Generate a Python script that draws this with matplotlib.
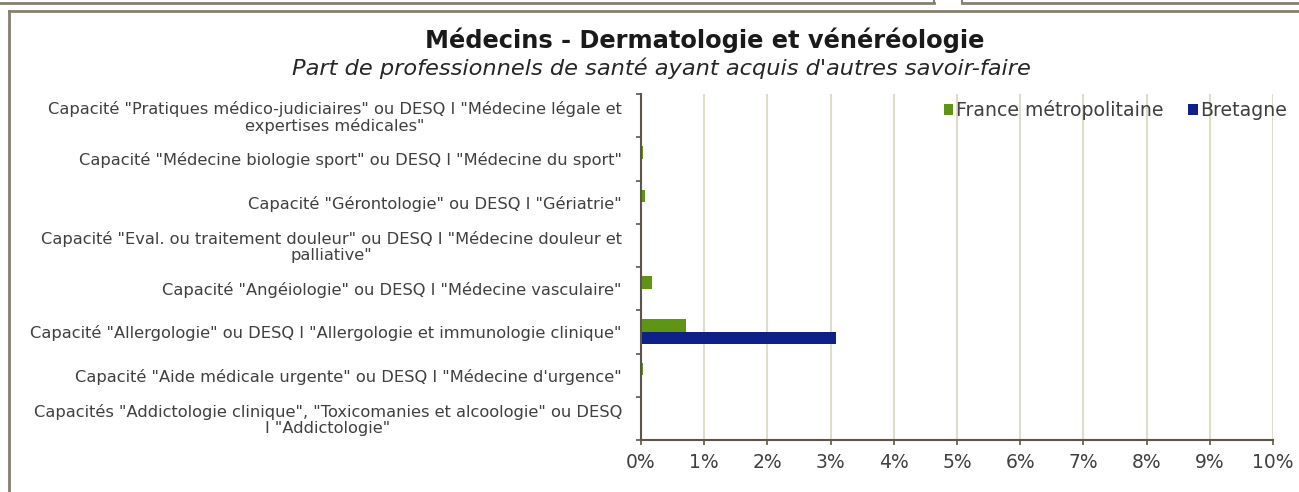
import matplotlib
matplotlib.use("Agg")
import matplotlib.pyplot as plt
import numpy as np
from matplotlib.lines import Line2D

plt.rcParams['font.family'] = ['DejaVu Sans']

categories = [
    'Capacité "Pratiques médico-judiciaires" ou DESQ I "Médecine légale et\nexpertises médicales"',
    'Capacité "Médecine biologie sport" ou DESQ I "Médecine du sport"',
    'Capacité "Gérontologie" ou DESQ I "Gériatrie"',
    'Capacité "Eval. ou traitement douleur" ou DESQ I "Médecine douleur et\npalliative"',
    'Capacité "Angéiologie" ou DESQ I "Médecine vasculaire"',
    'Capacité "Allergologie" ou DESQ I "Allergologie et immunologie clinique"',
    'Capacité "Aide médicale urgente" ou DESQ I "Médecine d\'urgence"',
    'Capacités "Addictologie clinique", "Toxicomanies et alcoologie" ou DESQ\nI "Addictologie"',
]
france = [0.0, 0.03, 0.06, 0.0, 0.17, 0.71, 0.03, 0.0]
bretagne = [0.0, 0.0, 0.0, 0.0, 0.0, 3.08, 0.0, 0.0]
xticks = [0, 1, 2, 3, 4, 5, 6, 7, 8, 9, 10]
series_names = ['France métropolitaine', 'Bretagne']

GREEN = '#5f9416'
BLUE = '#0f2189'
TXT = '#404040'
FRAME = '#858070'
AXC = '#5c5648'
GRID = '#e0dccb'

fig = plt.figure(figsize=(12.99, 4.92), dpi=100)
W, H = 1299, 492

# frames
tf = fig.transFigure
fig.add_artist(Line2D([0, 934/W], [1-3/H, 1-3/H], color=FRAME, lw=2, transform=tf))
fig.add_artist(Line2D([962/W, 1], [1-3/H, 1-3/H], color=FRAME, lw=2, transform=tf))
fig.add_artist(Line2D([934/W, 934/W], [1-3/H, 1], color=FRAME, lw=1.5, transform=tf))
fig.add_artist(Line2D([962/W, 962/W], [1-3/H, 1], color=FRAME, lw=1.5, transform=tf))
fig.add_artist(Line2D([9/W, 1], [1-11/H, 1-11/H], color=FRAME, lw=2, transform=tf))
fig.add_artist(Line2D([9/W, 9/W], [0, 1-11/H], color=FRAME, lw=2, transform=tf))

ax = fig.add_axes([641/W, 1-440/H, (1273-641)/W, (440-94)/H])
n = len(categories)
y = np.arange(n)
h = 0.29
ax.barh(y - h/2, france, height=h, color=GREEN, label=series_names[0], zorder=3)
ax.barh(y + h/2, bretagne, height=h, color=BLUE, label=series_names[1], zorder=3)

ax.set_ylim(n - 0.5, -0.5)
ax.set_xlim(0, 10)
ax.set_xticks(xticks)
ax.set_xticklabels([f'{v}%' for v in xticks], fontsize=13.5, color=TXT)
ax.set_yticks(np.arange(n + 1) - 0.5)
ax.set_yticklabels([])
ax.set_yticks(y, minor=True)
ax.set_yticklabels(categories, minor=True, fontsize=11.7, color=TXT,
                   multialignment='center', linespacing=1.05)
ax.tick_params(axis='y', which='minor', length=0, pad=13.7)
ax.tick_params(axis='y', which='major', length=3.6, width=1.2, color=AXC, direction='out')
ax.tick_params(axis='x', length=3.6, width=1.2, color=AXC, direction='out', pad=6)

ax.grid(axis='x', color=GRID, lw=1.5, zorder=0)
for s in ['top', 'right']:
    ax.spines[s].set_visible(False)
for s in ['left', 'bottom']:
    ax.spines[s].set_color(AXC)
    ax.spines[s].set_linewidth(1.5)
ax.spines['left'].set_zorder(4)

leg = fig.legend(loc='center left', bbox_to_anchor=(944/W, 1-110/H), ncol=2, frameon=False,
                 fontsize=13.6, handlelength=0.5, handleheight=0.5, handletextpad=0.15,
                 columnspacing=1.3, borderaxespad=0, borderpad=0)
for t in leg.get_texts():
    t.set_color(TXT)

fig.text(705/W, 1-40/H, 'Médecins - Dermatologie et vénéréologie', ha='center', va='center',
         fontsize=17.4, fontweight='bold', color='#1a1a1a')
fig.text(661/W, 1-68/H, "Part de professionnels de santé ayant acquis d'autres savoir-faire",
         ha='center', va='center', fontsize=16.2, style='italic', color='#262626')

fig.savefig('out.png', dpi=100)
